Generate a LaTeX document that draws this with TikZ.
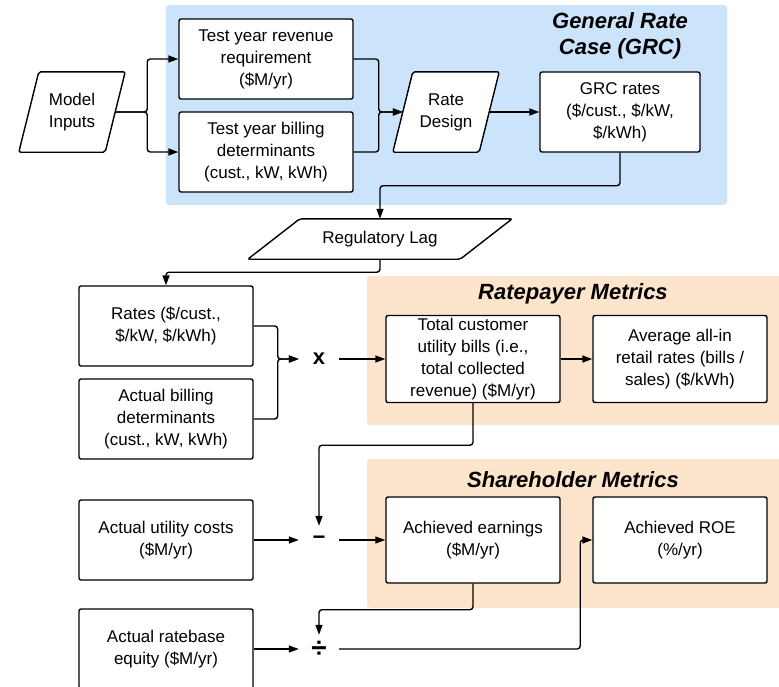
\documentclass[tikz,border=0pt]{standalone}
\usepackage{fontspec}
\setmainfont{Liberation Sans}
\usetikzlibrary{arrows.meta}
\definecolor{grcblue}{RGB}{204,228,251}
\definecolor{metricpeach}{RGB}{253,228,204}
\tikzset{
    every node/.style={align=center, font=\fontsize{17}{22}\selectfont}
}
\tikzset{
    box/.style={draw, fill=white, rounded corners=2pt, line width=1.4pt,
    	minimum width=174pt, minimum height=80pt, inner sep=1pt},
    iobox/.style={minimum width=86pt, minimum height=80pt, inner sep=1pt},
    oper/.style={minimum width=40pt, minimum height=28pt, inner sep=0pt,
    	font=\bfseries\fontsize{22}{22}\selectfont},
    heading/.style={font=\bfseries\itshape\fontsize{22}{26}\selectfont},
    outline/.style={draw, fill=white, line width=1.4pt, rounded corners=2pt},
    link/.style={line width=1.4pt, rounded corners=3pt,
    	-{Triangle[length=10pt,width=7pt]}}
}
\tikzset{
    every edge/.append style={line width=1.4pt, -{Triangle[length=10pt,width=7pt]}}
}

\begin{document}
\begin{tikzpicture}[x=1pt, y=-1pt]
	\useasboundingbox (0,0) rectangle (779,686);
	\clip (0,0) rectangle (779,686);
	\fill[grcblue, rounded corners=3pt] (166,5) rectangle (727,205);
	\fill[metricpeach, rounded corners=3pt] (367,276) rectangle (790,425);
	\fill[metricpeach, rounded corners=3pt] (367,459) rectangle (790,608);
	\node[heading] (grctitle) at (620,36) {General Rate\\Case (GRC)};
	\node[heading] (paytitle) at (573,294) {Ratepayer Metrics};
	\node[heading] (sharetitle) at (573,480) {Shareholder Metrics};
	\node[iobox] (inputs) at (72,112) {Model\\Inputs};
	\node[box] (revreq) at (266,59) {Test year revenue\\requirement\\(\$M/yr)};
	\node[box] (testbd) at (266,152) {Test year billing\\determinants\\(cust., kW, kWh)};
	\node[iobox] (design) at (446,112) {Rate\\Design};
	\node[box, minimum width=160pt] (grcrates) at (620,112) {GRC rates\\(\$/cust., \$/kW,\\\$/kWh)};
	\node[iobox, minimum width=212pt, minimum height=40pt] (lag) at (380,239) {};
	\node[box] (rates) at (166,326) {Rates (\$/cust.,\\\$/kW, \$/kWh)};
	\node[box] (actbd) at (166,419) {Actual billing\\determinants\\(cust., kW, kWh)};
	\node[box] (costs) at (166,540) {Actual utility costs\\(\$M/yr)};
	\node[box] (equity) at (166,649) {Actual ratebase\\equity (\$M/yr)};
	\node[oper] (times) at (319,359) {x};
	\node[oper] (minus) at (319,540) {−};
	\node[oper, font=\bfseries\fontsize{28}{28}\selectfont] (divide) at (319,649) {÷};
	\node[box, minimum height=87pt] (total) at (473,359) {Total customer\\utility bills (i.e.,\\total collected\\revenue) (\$M/yr)};
	\node[box, minimum height=87pt] (avg) at (680,359) {Average all-in\\retail rates (bills /\\sales) (\$/kWh)};
	\node[box, minimum height=86pt] (earn) at (473,540) {Achieved earnings\\(\$M/yr)};
	\node[box, minimum height=86pt] (roe) at (680,540) {Achieved ROE\\(\%/yr)};
	\draw[outline] ([xshift=10pt]inputs.north west) -- ([xshift=10pt]inputs.north east)
		-- ([xshift=-10pt]inputs.south east) -- ([xshift=-10pt]inputs.south west) -- cycle;
	\draw[outline] ([xshift=10pt]design.north west) -- ([xshift=10pt]design.north east)
		-- ([xshift=-10pt]design.south east) -- ([xshift=-10pt]design.south west) -- cycle;
	\draw[outline] ([xshift=26pt]lag.north west) -- ([xshift=26pt]lag.north east)
		-- ([xshift=-26pt]lag.south east) -- ([xshift=-26pt]lag.south west) -- cycle;
	\node at (inputs) {Model\\Inputs};
	\node at (design) {Rate\\Design};
	\node at (lag) {Regulatory Lag};
	\draw[link] (inputs.east) -- ++(32,0) |- (revreq.west);
	\draw[link] (inputs.east) -- ++(32,0) |- (testbd.west);
	\draw[link] (revreq.east) -- ++(25,0) |- (design.west);
	\draw[link] (testbd.east) -- ++(25,0) |- (design.west);
	\draw (design) edge (grcrates);
	\draw[link] (grcrates.south) -- ++(0,33) -| (lag.north);
	\draw[link] (lag.south) -- ++(0,13) -| (rates.north);
	\draw[link] (rates.east) -- ++(24,0) |- (times.west);
	\draw[link] (actbd.east) -- ++(24,0) |- (times.west);
	\draw (times) edge (total);
	\draw (total) edge (avg);
	\draw[link] (total.south) -- ++(0,42) -| (minus.north);
	\draw (costs) edge (minus);
	\draw (minus) edge (earn);
	\draw[link] (earn.south) -- ++(0,26) -| (divide.north);
	\draw (equity) edge (divide);
	\draw[link] (divide.east) -- ++(241,0) |- (roe.west);
\end{tikzpicture}
\end{document}
